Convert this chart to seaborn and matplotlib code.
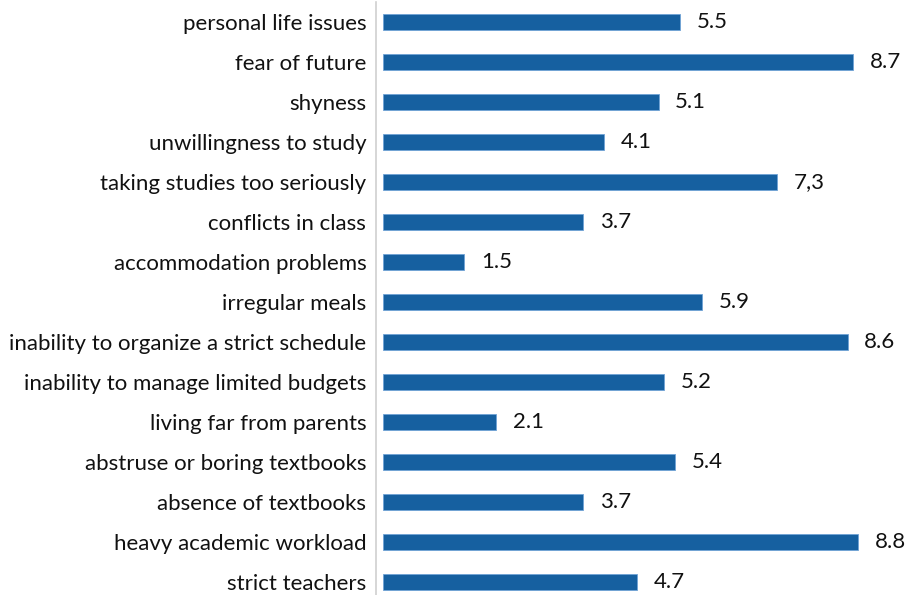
import matplotlib
matplotlib.use("Agg")
import matplotlib.pyplot as plt
import seaborn as sns
import pandas as pd

# Data (top to bottom)
causes = [
    "personal life issues",
    "fear of future",
    "shyness",
    "unwillingness to study",
    "taking studies too seriously",
    "conflicts in class",
    "accommodation problems",
    "irregular meals",
    "inability to organize a strict schedule",
    "inability to manage limited budgets",
    "living far from parents",
    "abstruse or boring textbooks",
    "absence of textbooks",
    "heavy academic workload",
    "strict teachers",
]
scores = [5.5, 8.7, 5.1, 4.1, 7.3, 3.7, 1.5, 5.9, 8.6, 5.2, 2.1, 5.4, 3.7, 8.8, 4.7]
value_labels = ["5.5", "8.7", "5.1", "4.1", "7,3", "3.7", "1.5", "5.9", "8.6",
                "5.2", "2.1", "5.4", "3.7", "8.8", "4.7"]

df = pd.DataFrame({"cause": causes, "score": scores})

sns.set_style("white")
plt.rcParams["font.family"] = ["Lato", "DejaVu Sans"]

fig = plt.figure(figsize=(9.07, 5.95), dpi=100)
ax = fig.add_axes([376 / 907, 0.0, 531 / 907, 593 / 595])

sns.barplot(data=df, x="score", y="cause", orient="h", order=causes,
            color="#1660a0", saturation=1, width=0.4,
            edgecolor="#6fa3d6", linewidth=0.6, ax=ax)

ax.bar_label(ax.containers[0], labels=value_labels, padding=12, fontsize=16,
             color="#111111")

ax.set_xlim(-0.13, 9.7)
ax.set_ylim(14.32, -0.5)
ax.set_xlabel("")
ax.set_ylabel("")
ax.set_xticks([])
ax.tick_params(axis="y", length=0, pad=7, labelsize=16, labelcolor="#111111")
for side in ["top", "right", "bottom"]:
    ax.spines[side].set_visible(False)
ax.spines["left"].set_color("#d0d0d0")
ax.spines["left"].set_linewidth(1.2)

fig.savefig("out.png", dpi=100)
